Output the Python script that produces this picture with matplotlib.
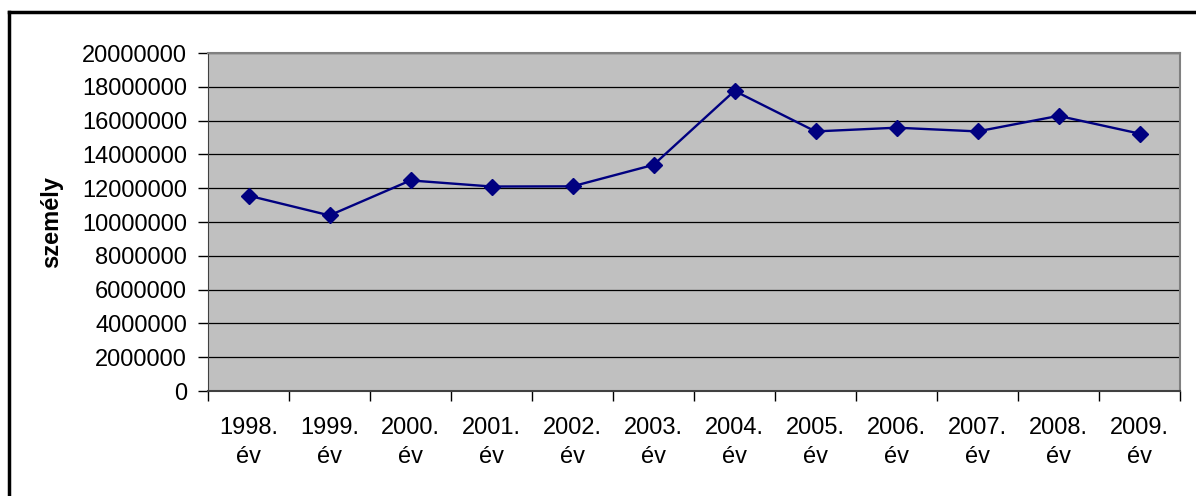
import matplotlib.pyplot as plt
from matplotlib.lines import Line2D

plt.rcParams['font.family'] = ['Liberation Sans', 'DejaVu Sans']

years = ['1998.\név', '1999.\név', '2000.\név', '2001.\név', '2002.\név', '2003.\név',
         '2004.\név', '2005.\név', '2006.\név', '2007.\név', '2008.\név', '2009.\név']
persons = [11560000, 10390000, 12460000, 12100000, 12110000, 13380000,
           17760000, 15360000, 15580000, 15360000, 16280000, 15230000]
yticks = list(range(0, 20000001, 2000000))

fig = plt.figure(figsize=(11.96, 4.96), dpi=100)
ax = fig.add_axes([208 / 1196, 1 - 391 / 496, (1180 - 208) / 1196, (391 - 53) / 496])

# outer chart frame (only left and top edges are visible in the picture)
fig.add_artist(Line2D([9 / 1196, 9 / 1196], [0, 1 - 12 / 496], transform=fig.transFigure,
                      color='black', lw=2.5))
fig.add_artist(Line2D([9 / 1196, 1], [1 - 12 / 496, 1 - 12 / 496], transform=fig.transFigure,
                      color='black', lw=2.5))

ax.set_facecolor('#c0c0c0')
x = list(range(len(years)))
ax.plot(x, persons, color='#000080', lw=1.7, marker='D', markersize=8.5, zorder=3)

ax.set_xlim(-0.5, len(years) - 0.5)
ax.set_ylim(0, 20000000)
ax.set_yticks(yticks)
ax.set_yticklabels([str(v) for v in yticks], fontsize=17)
ax.yaxis.grid(True, color='black', lw=0.9)
ax.set_axisbelow(True)

# category ticks sit between the categories, labels at the centres
ax.set_xticks([i - 0.5 for i in range(len(years) + 1)])
ax.set_xticklabels([])
ax.set_xticks(x, minor=True)
ax.set_xticklabels(years, minor=True, fontsize=17, linespacing=1.4)
ax.tick_params(axis='x', which='minor', length=0, pad=19)
ax.tick_params(axis='x', which='major', length=7, width=1, color='black')
ax.tick_params(axis='y', length=7, width=1, color='black', pad=8)

fig.text(52 / 1196, 1 - 222 / 496, 'személy', rotation=90, ha='center', va='center',
         fontsize=17, fontweight='bold')

for side in ['top', 'right']:
    ax.spines[side].set_color('#808080')
    ax.spines[side].set_linewidth(1.5)
ax.spines['left'].set_color('#404040')
ax.spines['bottom'].set_color('#404040')
ax.spines['bottom'].set_linewidth(1.5)

fig.savefig('out.png', dpi=100)
